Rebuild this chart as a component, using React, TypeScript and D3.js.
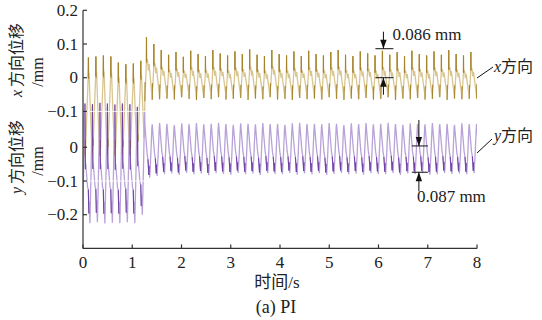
import React, { useEffect, useRef } from "react";
import * as d3 from "d3";

const xTicks = [0, 1, 2, 3, 4, 5, 6, 7, 8];
const upperTicks = [0.2, 0.1, 0, -0.1];
const lowerTicks = [0, -0.1, -0.2];

// cycle timing (s)
const preStart = -0.112;
const prePeriod = 0.152;
const postPeriod = 0.1497;

// one cycle of each waveform: [phase, fraction between trough and peak, dark stroke]
const xPreShape = [
  [0.0, 0.0, 1], [0.05, 0.16, 1], [0.09, 0.08, 1], [0.14, 0.2, 0], [0.4, 0.74, 0],
  [0.43, 0.8, 1], [0.46, 1.0, 1], [0.49, 0.78, 1], [0.55, 0.84, 0], [0.68, 0.55, 0], [0.9, 0.12, 0],
];
const xPostShape = [
  [0.0, 0.0, 1], [0.04, 0.3, 1], [0.07, 0.22, 0], [0.19, 0.55, 0], [0.205, 0.62, 1],
  [0.22, 1.0, 1], [0.24, 0.6, 1], [0.36, 0.66, 0], [0.48, 0.48, 0], [0.58, 0.58, 0], [0.7, 0.42, 0], [0.94, 0.12, 0],
];
const yPreShape = [
  [0.0, 1.0, 1], [0.03, 0.7, 1], [0.06, 0.45, 1], [0.1, 0.5, 0], [0.35, 0.3, 0], [0.45, 0.28, 1],
  [0.52, 0.08, 1], [0.56, 0.18, 0], [0.66, 0.0, 0], [0.82, 0.45, 0], [0.96, 0.95, 0],
];
const yPostShape = [
  [0.0, 1.0, 0], [0.05, 0.9, 0], [0.3, 0.45, 0], [0.42, 0.34, 1], [0.55, 0.05, 1],
  [0.58, 0.22, 1], [0.66, 0.0, 0], [0.8, 0.4, 0], [0.95, 0.92, 0],
];

// x direction, per-cycle extremes (mm)
const xPreHi = [0.058, 0.06, 0.063, 0.066, 0.063, 0.045, 0.04, 0.042, 0.05];
const xPreLo = [-0.22, -0.23, -0.225, -0.232, -0.228, -0.23, -0.226, -0.23, -0.21];
const xPostHi = [
  0.12, 0.1, 0.082, 0.068, 0.076, 0.062, 0.08, 0.07, 0.064, 0.082, 0.072, 0.066, 0.078, 0.07, 0.084, 0.068,
  0.064, 0.082, 0.07, 0.066, 0.078, 0.064, 0.08, 0.07, 0.066, 0.076, 0.082, 0.068, 0.064, 0.078, 0.072, 0.066,
  0.08, 0.068, 0.076, 0.064, 0.08, 0.07, 0.066, 0.078, 0.068, 0.082, 0.07, 0.066, 0.076, 0.08,
];
const xPostLo = [
  -0.07, -0.066, -0.064, -0.062, -0.065, -0.058, -0.063, -0.066, -0.06, -0.064, -0.058, -0.065, -0.063, -0.06,
  -0.066, -0.062, -0.064, -0.058, -0.065, -0.063, -0.066, -0.06, -0.064, -0.062, -0.065, -0.058, -0.063, -0.066,
  -0.062, -0.064, -0.06, -0.065, -0.063, -0.058, -0.066, -0.062, -0.064, -0.06, -0.065, -0.063, -0.058, -0.066,
  -0.062, -0.064, -0.063, -0.062,
];

// y direction, per-cycle extremes (mm)
const yPreHi = [0.12, 0.13, 0.128, 0.132, 0.13, 0.127, 0.13, 0.128, 0.12];
const yPreLo = [-0.22, -0.225, -0.222, -0.226, -0.224, -0.225, -0.222, -0.225, -0.2];
const yPostHi = [
  0.07, 0.068, 0.072, 0.07, 0.066, 0.071, 0.069, 0.072, 0.068, 0.07, 0.073, 0.069, 0.067, 0.071, 0.07, 0.068,
  0.072, 0.069, 0.07, 0.067, 0.071, 0.073, 0.069, 0.07, 0.068, 0.072, 0.07, 0.066, 0.071, 0.069, 0.072, 0.068,
  0.07, 0.073, 0.069, 0.067, 0.071, 0.07, 0.068, 0.072, 0.069, 0.07, 0.067, 0.071, 0.069, 0.07,
];
const yPostLo = [
  -0.09, -0.085, -0.08, -0.078, -0.082, -0.076, -0.08, -0.078, -0.083, -0.077, -0.079, -0.081, -0.076, -0.08,
  -0.078, -0.082, -0.077, -0.079, -0.08, -0.076, -0.081, -0.078, -0.08, -0.077, -0.082, -0.079, -0.076, -0.08,
  -0.078, -0.081, -0.077, -0.079, -0.08, -0.076, -0.082, -0.078, -0.079, -0.077, -0.081, -0.08, -0.076, -0.079,
  -0.078, -0.08, -0.077, -0.079,
];

type Pt = { t: number; v: number; dark: boolean };

function build(shapeA: number[][], shapeB: number[][], aHi: number[], aLo: number[], bHi: number[], bLo: number[]) {
  const pts: Pt[] = [];
  let t0 = preStart;
  aHi.forEach((hi, i) => {
    shapeA.forEach(([p, f, k]) => pts.push({ t: t0 + p * prePeriod, v: aLo[i] + f * (hi - aLo[i]), dark: !!k }));
    t0 += prePeriod;
  });
  bHi.forEach((hi, i) => {
    shapeB.forEach(([p, f, k]) => pts.push({ t: t0 + p * postPeriod, v: bLo[i] + f * (hi - bLo[i]), dark: !!k }));
    t0 += postPeriod;
  });
  return pts;
}

const FONT = "'Liberation Serif', 'Noto Sans CJK SC', serif";

export default function App() {
  const svgRef = useRef<SVGSVGElement>(null);

  useEffect(() => {
    const W = 542, H = 320;
    const svg = d3.select(svgRef.current)
      .html("")
      .attr("width", W)
      .attr("height", H)
      .attr("font-family", FONT)
      .style("background", "#fff");

    const x = d3.scaleLinear().domain([0, 8]).range([83, 477]);
    const yUp = d3.scaleLinear().domain([-0.1, 0.2]).range([111.4, 10.3]);
    const yLow = d3.scaleLinear().domain([-0.3, 0]).range([248.4, 147.3]);
    const x0 = x(0), x1 = x(8), yb = yLow(-0.3);

    svg.append("defs").append("clipPath").attr("id", "plot")
      .append("rect").attr("x", x0).attr("y", 0).attr("width", x1 - x0).attr("height", yb);

    const xSeries = build(xPreShape, xPostShape, xPreHi, xPreLo, xPostHi, xPostLo);
    const ySeries = build(yPreShape, yPostShape, yPreHi, yPreLo, yPostHi, yPostLo);

    const lineUp = d3.line<Pt>().x(d => x(d.t)).y(d => yUp(d.v));
    const lineLow = d3.line<Pt>().x(d => x(d.t)).y(d => yLow(d.v));
    const darkUp = d3.line<Pt>().defined(d => d.dark).x(d => x(d.t)).y(d => yUp(d.v));
    const darkLow = d3.line<Pt>().defined(d => d.dark).x(d => x(d.t)).y(d => yLow(d.v));

    const plot = svg.append("g").attr("clip-path", "url(#plot)");
    plot.append("path").datum(xSeries).attr("d", lineUp)
      .attr("fill", "none").attr("stroke", "#d8c590").attr("stroke-width", 1.3);
    plot.append("path").datum(ySeries).attr("d", lineLow)
      .attr("fill", "none").attr("stroke", "#b9a2d8").attr("stroke-width", 1.3);
    plot.append("path").datum(xSeries).attr("d", darkUp)
      .attr("fill", "none").attr("stroke", "#a5832c").attr("stroke-width", 1);
    plot.append("path").datum(ySeries).attr("d", darkLow)
      .attr("fill", "none").attr("stroke", "#6f3fa3").attr("stroke-width", 1);

    // faint white grid lines showing through the traces
    [yUp(-0.1), yLow(-0.1)].forEach(yy => {
      plot.append("line").attr("x1", x0 + 1).attr("x2", x1).attr("y1", yy).attr("y2", yy)
        .attr("stroke", "#fff").attr("stroke-width", 1).attr("opacity", 0.85);
    });

    // axes
    const ax = svg.append("g").attr("stroke", "#333").attr("stroke-width", 1.2);
    ax.append("line").attr("x1", x0).attr("x2", x0).attr("y1", yUp(0.2)).attr("y2", yb);
    ax.append("line").attr("x1", x0).attr("x2", x1).attr("y1", yb).attr("y2", yb);
    xTicks.forEach(t => ax.append("line").attr("x1", x(t)).attr("x2", x(t)).attr("y1", yb).attr("y2", yb - 4));
    upperTicks.forEach(v => ax.append("line").attr("x1", x0).attr("x2", x0 + 4).attr("y1", yUp(v)).attr("y2", yUp(v)));
    lowerTicks.forEach(v => ax.append("line").attr("x1", x0).attr("x2", x0 + 4).attr("y1", yLow(v)).attr("y2", yLow(v)));

    const fmt = (v: number) => (v < 0 ? "\u2212" : "") + (v === 0 ? "0" : Math.abs(v).toFixed(1));
    const tl = svg.append("g").attr("fill", "#222").attr("font-size", 17);
    xTicks.forEach(t => tl.append("text").attr("x", x(t)).attr("y", 262).attr("text-anchor", "middle")
      .attr("dominant-baseline", "central").text(t));
    upperTicks.forEach(v => tl.append("text").attr("x", x0 - 5).attr("y", yUp(v)).attr("text-anchor", "end")
      .attr("dominant-baseline", "central").text(fmt(v)));
    lowerTicks.forEach(v => tl.append("text").attr("x", x0 - 5).attr("y", yLow(v)).attr("text-anchor", "end")
      .attr("dominant-baseline", "central").text(fmt(v)));

    // axis titles
    const yTitle = (cx: number, cy: number, letter: string, rest: string) => {
      const t = svg.append("text").attr("transform", `translate(${cx},${cy}) rotate(-90)`)
        .attr("text-anchor", "middle").attr("dominant-baseline", "central")
        .attr("fill", "#222").attr("font-size", 16);
      t.append("tspan").style("font-style", "italic").text(letter);
      t.append("tspan").attr("dx", 3).text(rest);
    };
    yTitle(16, 60, "x", "方向位移");
    yTitle(16, 157, "y", "方向位移");
    [[37, 72], [37, 161]].forEach(([cx, cy]) => {
      svg.append("text").attr("transform", `translate(${cx},${cy}) rotate(-90)`)
        .attr("text-anchor", "middle").attr("dominant-baseline", "central")
        .attr("fill", "#222").attr("font-size", 16).text("/mm");
    });
    svg.append("text").attr("x", 277).attr("y", 282).attr("text-anchor", "middle")
      .attr("dominant-baseline", "central").attr("fill", "#222").attr("font-size", 17).text("时间/s");
    svg.append("text").attr("x", 276).attr("y", 307).attr("text-anchor", "middle")
      .attr("dominant-baseline", "central").attr("fill", "#222").attr("font-size", 18).text("(a) PI");

    // annotations
    const an = svg.append("g").attr("stroke", "#111").attr("stroke-width", 1);
    const head = (cx: number, tip: number, dir: number) =>
      svg.append("path").attr("d", `M${cx},${tip}L${cx - 3.2},${tip - dir * 9}L${cx + 3.2},${tip - dir * 9}Z`).attr("fill", "#111");

    // 0.086 mm span on x trace
    const ax1 = x(6.1), a1Top = yUp(0.086), a1Bot = yUp(0);
    an.append("line").attr("x1", ax1 - 8).attr("x2", ax1 + 10).attr("y1", a1Top).attr("y2", a1Top);
    an.append("line").attr("x1", ax1 - 8).attr("x2", ax1 + 10).attr("y1", a1Bot).attr("y2", a1Bot);
    an.append("line").attr("x1", ax1).attr("x2", ax1).attr("y1", a1Top - 17).attr("y2", a1Top);
    an.append("line").attr("x1", ax1).attr("x2", ax1).attr("y1", a1Bot).attr("y2", a1Bot + 17);
    head(ax1, a1Top, 1);
    head(ax1, a1Bot, -1);
    svg.append("text").attr("x", ax1 + 9).attr("y", a1Top - 14).attr("dominant-baseline", "central")
      .attr("fill", "#222").attr("font-size", 17).text("0.086 mm");

    // 0.087 mm span on y trace
    const ax2 = x(6.82), a2Top = yLow(0.004), a2Bot = yLow(-0.074);
    an.append("line").attr("x1", ax2 - 7).attr("x2", ax2 + 9).attr("y1", a2Top).attr("y2", a2Top);
    an.append("line").attr("x1", ax2 - 7).attr("x2", ax2 + 9).attr("y1", a2Bot).attr("y2", a2Bot);
    an.append("line").attr("x1", ax2).attr("x2", ax2).attr("y1", a2Top - 26).attr("y2", a2Top);
    an.append("line").attr("x1", ax2).attr("x2", ax2).attr("y1", a2Bot).attr("y2", a2Bot + 19);
    head(ax2, a2Top, 1);
    head(ax2, a2Bot, -1);
    svg.append("text").attr("x", ax2 - 2).attr("y", 196).attr("dominant-baseline", "central")
      .attr("fill", "#222").attr("font-size", 17).text("0.087 mm");

    // series labels
    an.append("line").attr("x1", 477).attr("y1", 78).attr("x2", 493).attr("y2", 67);
    an.append("line").attr("x1", 477).attr("y1", 153).attr("x2", 492).attr("y2", 139);
    const lab = (yy: number, letter: string) => {
      const t = svg.append("text").attr("x", 494).attr("y", yy).attr("dominant-baseline", "central")
        .attr("fill", "#222").attr("font-size", 16);
      t.append("tspan").style("font-style", "italic").text(letter);
      t.append("tspan").text("方向");
    };
    lab(66, "x");
    lab(135, "y");
  }, []);

  return <svg ref={svgRef} style={{ position: "absolute", left: 0, top: 0 }} />;
}
